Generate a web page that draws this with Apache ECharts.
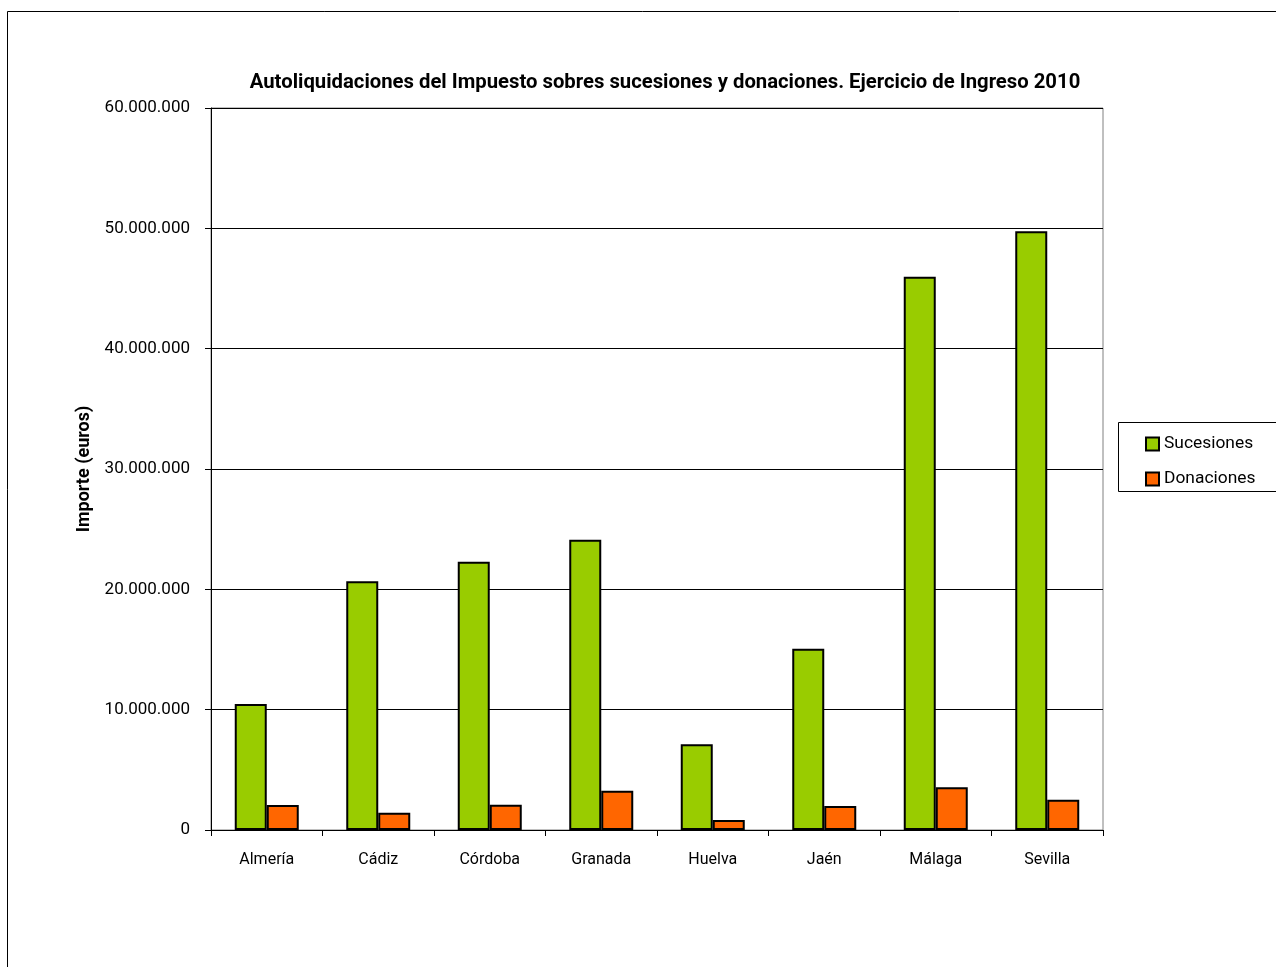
<!DOCTYPE html>
<html>
<head>
<meta charset="utf-8">
<script src="https://cdn.jsdelivr.net/npm/echarts@6/dist/echarts.min.js"></script>
<style>
html,body{margin:0;padding:0;background:#fff;}
#chart{width:1276px;height:967px;}
</style>
</head>
<body>
<div id="chart"></div>
<script>
const categories = ['Almería', 'Cádiz', 'Córdoba', 'Granada', 'Huelva', 'Jaén', 'Málaga', 'Sevilla'];
const sucesiones = [10470000, 20670000, 22300000, 24130000, 7130000, 15070000, 45970000, 49750000];
const donaciones = [2080000, 1440000, 2100000, 3270000, 830000, 1990000, 3560000, 2510000];
const yTicks = [0, 10000000, 20000000, 30000000, 40000000, 50000000, 60000000];

const FONT = 'Roboto, "Liberation Sans", sans-serif';

function fmt(v) {
  return String(Math.round(v)).replace(/\B(?=(\d{3})+(?!\d))/g, '.');
}

const chart = echarts.init(document.getElementById('chart'), null, {renderer: 'canvas'});
chart.setOption({
  backgroundColor: '#ffffff',
  animation: false,
  title: {
    text: 'Autoliquidaciones del Impuesto sobres sucesiones y donaciones. Ejercicio de Ingreso 2010',
    left: 660, top: 68, textAlign: 'center',
    textStyle: {fontFamily: FONT, fontWeight: 'bold', fontSize: 20.3, color: '#000'}
  },
  graphic: [
    {type: 'rect', shape: {x: 7.5, y: 11.5, width: 1300, height: 1000},
     style: {fill: 'none', stroke: '#000', lineWidth: 1}, silent: true, z: -1},
    {type: 'rect', shape: {x: 1118.5, y: 422.5, width: 200, height: 69},
     style: {fill: '#fff', stroke: '#000', lineWidth: 1}, silent: true, z: 0}
  ],
  legend: {
    orient: 'vertical',
    left: 1145, top: 434, padding: 0,
    itemWidth: 13, itemHeight: 13, itemGap: 15,
    icon: 'rect',
    textStyle: {fontFamily: FONT, fontSize: 17.4, color: '#000', lineHeight: 20},
    data: ['Sucesiones', 'Donaciones'],
    z: 10
  },
  grid: {
    left: 211, top: 108, width: 892, height: 722,
    show: true, borderColor: '#808080', borderWidth: 1, backgroundColor: 'transparent'
  },
  xAxis: {
    type: 'category',
    data: categories,
    boundaryGap: true,
    axisLine: {show: true, lineStyle: {color: '#000', width: 1}},
    axisTick: {show: true, alignWithLabel: false, length: 6, lineStyle: {color: '#000'}},
    axisLabel: {fontFamily: FONT, fontSize: 16, color: '#000', margin: 22, interval: 0},
    splitLine: {show: false}
  },
  yAxis: {
    type: 'value',
    min: 0, max: 60000000, interval: 10000000,
    name: 'Importe (euros)',
    nameLocation: 'middle',
    nameGap: 116,
    nameTextStyle: {fontFamily: FONT, fontWeight: 'bold', fontSize: 18, color: '#000'},
    axisLine: {show: true, lineStyle: {color: '#000', width: 1}},
    axisTick: {show: true, inside: false, length: 6, lineStyle: {color: '#000'}},
    axisLabel: {fontFamily: FONT, fontSize: 17, color: '#000', margin: 21,
      formatter: function (v) { return yTicks.indexOf(v) >= 0 ? fmt(v) : ''; }},
    splitLine: {show: true, lineStyle: {color: '#000', width: 1}}
  },
  series: [
    {
      name: 'Sucesiones', type: 'bar', data: sucesiones,
      barWidth: 32, barGap: '0%',
      itemStyle: {color: '#99CC00', borderColor: '#000', borderWidth: 2}
    },
    {
      name: 'Donaciones', type: 'bar', data: donaciones,
      barWidth: 32, barGap: '0%',
      itemStyle: {color: '#FF6600', borderColor: '#000', borderWidth: 2}
    }
  ]
});
</script>
</body>
</html>
